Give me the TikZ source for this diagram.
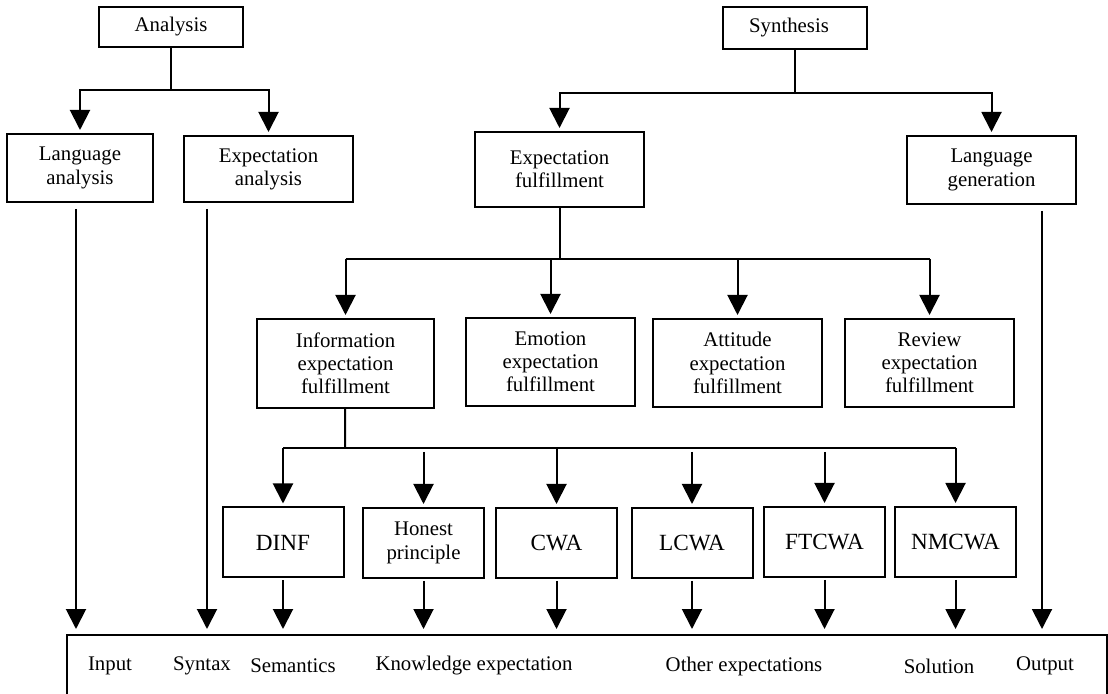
\documentclass[tikz,border=0pt]{standalone}
\usepackage{fontspec}
\setmainfont{Liberation Serif}
\usetikzlibrary{arrows.meta, calc, positioning}

\begin{document}
\begin{tikzpicture}[x=0.5pt, y=-0.5pt,
    font=\fontsize{10.4}{11.6}\selectfont,
    box/.style={draw, line width=1pt, align=center, inner sep=0pt},
    wide/.style={box, minimum width=84.5pt},
    small/.style={box, minimum width=60.5pt, minimum height=35pt},
    big/.style={font=\fontsize{11.6}{13}\selectfont},
    arr/.style={-{Triangle[width=10pt, length=10pt]}, line width=1pt, shorten >=1.5pt},
    ln/.style={line width=1pt}]
  \clip (0,0) rectangle (1108,694);

  % top level
  \node[box, minimum width=72pt, minimum height=20pt] (analysis) at (171,27) {Analysis};
  \node[box, minimum width=72pt, minimum height=21pt] (synthesis) at (795,28) {Synthesis\hspace*{6pt}};

  \node[box, minimum width=73pt, minimum height=34pt] (langana) at (80,168) {Language\\analysis};
  \node[wide, minimum height=33pt] (expana) at (268.5,169) {Expectation\\analysis};
  \node[wide, minimum height=37.5pt] (expful) at (559.5,169.5) {Expectation\\fulfillment};
  \node[wide, minimum height=34pt] (langgen) at (991.5,170) {Language\\generation};

  % kinds of expectation
  \node[box, minimum width=88.5pt, minimum height=44.5pt] (info) at (345.5,363.5) {Information\\expectation\\fulfillment};
  \node[wide, minimum height=44pt] (emotion) at (550.5,362) {Emotion\\expectation\\fulfillment};
  \node[wide, minimum height=44pt] (attitude) at (737.5,363) {Attitude\\expectation\\fulfillment};
  \node[wide, minimum height=44pt] (review) at (929.5,363) {Review\\expectation\\fulfillment};

  % information principles
  \node[small, big] (dinf) at (283,542.5) {DINF};
  \node[small] (honest) at (423.5,543) {Honest\\principle};
  \node[small, big] (cwa) at (556.5,543) {CWA};
  \node[small, big] (lcwa) at (692,543) {LCWA};
  \node[small, big] (ftcwa) at (824.5,542) {FTCWA};
  \node[small, big] (nmcwa) at (955.5,542) {NMCWA};

  % bottom frame
  \node[box, anchor=north, minimum width=520pt, minimum height=60pt] (frame) at (587,634) {};
  \node (input) at (110,666) {Input};
  \node (syntax) at (202,666) {Syntax};
  \node (semantics) at (293,666) {Semantics};
  \node (knowledge) at (474,666) {Knowledge expectation};
  \node (others) at (744,666) {Other expectations};
  \node (solution) at (939,666) {Solution};
  \node (output) at (1045,666) {Output};

  % junctions
  \coordinate (ajoin) at (171,90);
  \coordinate (sjoin) at (795,93);
  \coordinate (fjoin) at (559.5,259);
  \coordinate (ijoin) at (345,448);
  \coordinate (langout) at ($(langana.south)+(-4,0)$);
  \coordinate (anaout) at ($(expana.south west)+(24,0)$);
  \coordinate (genout) at ($(langgen.south east)+(-35,0)$);

  \draw[ln] (analysis) -- (ajoin);
  \draw[arr] (ajoin) -| (langana);
  \draw[arr] (ajoin) -| (expana);

  \draw[ln] (synthesis) -- (sjoin);
  \draw[arr] (sjoin) -| (expful);
  \draw[arr] (sjoin) -| (langgen);

  \draw[ln] (expful) -- (fjoin);
  \draw[ln] (info.north |- fjoin) -- (review.north |- fjoin);
  \foreach \n in {info, emotion, attitude, review}
    \draw[arr] (\n.north |- fjoin) -- (\n);

  \draw[ln] (info) -- (ijoin);
  \draw[ln] (dinf.north |- ijoin) -- (nmcwa.north |- ijoin);
  \foreach \n in {dinf, cwa, nmcwa}
    \draw[arr] (\n.north |- ijoin) -- (\n);
  \foreach \n in {honest, lcwa, ftcwa}
    \draw[arr, shorten <=2pt] (\n.north |- ijoin) -- (\n);

  % down to the frame
  \foreach \n in {langout, anaout, genout}
    \draw[arr, shorten <=3pt, shorten >=2.5pt] (\n) -- (\n |- frame.north);
  \foreach \n in {dinf, honest, cwa, lcwa, ftcwa, nmcwa}
    \draw[arr, shorten <=1pt, shorten >=2.5pt] (\n) -- (\n |- frame.north);
\end{tikzpicture}
\end{document}
